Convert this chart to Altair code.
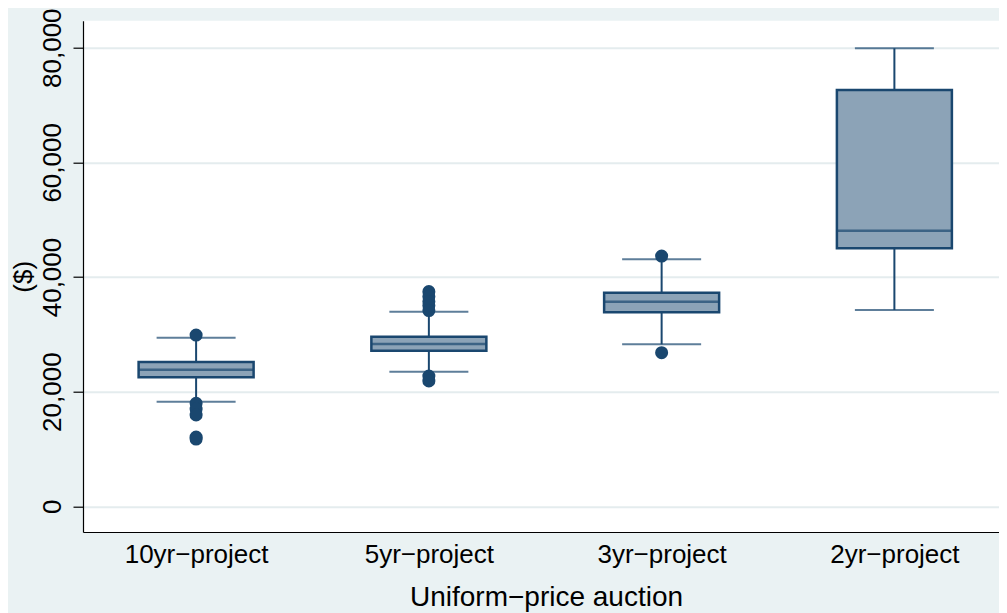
import altair as alt
import pandas as pd

# ---- data ----
categories = ["10yr\u2212project", "5yr\u2212project", "3yr\u2212project", "2yr\u2212project"]
lower_whisker = [18250, 23480, 28260, 34240]
q1 = [22500, 27140, 33840, 45010]
median = [23830, 28310, 35690, 48080]
q3 = [25170, 29590, 37260, 72620]
upper_whisker = [29410, 33950, 43090, 79900]

outlier_group = [
    "10yr\u2212project", "10yr\u2212project", "10yr\u2212project", "10yr\u2212project",
    "10yr\u2212project", "10yr\u2212project",
    "5yr\u2212project", "5yr\u2212project", "5yr\u2212project", "5yr\u2212project",
    "5yr\u2212project", "5yr\u2212project", "5yr\u2212project",
    "3yr\u2212project", "3yr\u2212project",
]
outlier_value = [
    29880, 17970, 16970, 15930, 12090, 11740,
    37450, 36580, 35710, 35010, 34140, 22730, 21860,
    43660, 26800,
]

y_ticks = [0, 20000, 40000, 60000, 80000]

box_df = pd.DataFrame({
    "idx": list(range(len(categories))), "cat": categories,
    "lw": lower_whisker, "q1": q1, "med": median, "q3": q3, "uw": upper_whisker,
})
out_df = pd.DataFrame({
    "idx": [categories.index(g) for g in outlier_group], "val": outlier_value,
})

NAVY = "#1a476f"
FILL = "#8ca3b7"
FONT = "Liberation Sans"
PLOT_W = 916
PLOT_H = 511.3
STEP = 235.33
FIRST = 109.3

label_expr = "[" + ",".join(f"'{c}'" for c in categories) + "][datum.value]"

x_enc = alt.X(
    "idx:Q",
    scale=alt.Scale(domain=[-FIRST / STEP, (PLOT_W - FIRST) / STEP], nice=False, zero=False),
    axis=alt.Axis(
        values=list(range(len(categories))), labelExpr=label_expr,
        title="Uniform\u2212price auction", labelAngle=0, ticks=False, tickSize=0,
        labelPadding=9, labelFont=FONT, labelFontSize=26, labelColor="black",
        labelFlush=False, labelOverlap=False,
        domainColor="black", domainWidth=1.2, grid=False,
        titleFont=FONT, titleFontSize=28, titleFontWeight="normal", titleColor="black",
        titleX=463, titleY=73, titleAlign="center", titleBaseline="alphabetic",
    ),
)

y_scale = alt.Scale(domain=[-4480, 84710], nice=False, zero=False)
y_axis = alt.Axis(
    values=y_ticks, format=",d", labelAngle=270, labelAlign="center",
    labelBaseline="alphabetic", labelPadding=13, labelFont=FONT, labelFontSize=26,
    labelColor="black", labelFlush=False, labelOverlap=False,
    tickSize=10, tickColor="black", tickWidth=1.2,
    domainColor="black", domainWidth=1.2,
    grid=True, gridColor="#e4ecee", gridWidth=2,
    title="($)", titleFont=FONT, titleFontSize=26, titleFontWeight="normal",
    titleColor="black", titleAngle=270, titleX=-52, titleY=PLOT_H / 2,
    titleAlign="center", titleBaseline="alphabetic",
)


def Y(field):
    return alt.Y(f"{field}:Q", scale=y_scale, axis=y_axis)


base = alt.Chart(box_df)

whisker = base.mark_rule(color=NAVY, strokeWidth=2).encode(
    x=x_enc, y=Y("lw"), y2="uw:Q"
)
cap_low = base.mark_tick(orient="horizontal", size=79, thickness=2, color=NAVY).encode(
    x=x_enc, y=Y("lw")
)
cap_high = base.mark_tick(orient="horizontal", size=79, thickness=2, color=NAVY).encode(
    x=x_enc, y=Y("uw")
)
box = base.mark_bar(size=115, fill=FILL, stroke=NAVY, strokeWidth=2.5).encode(
    x=x_enc, y=Y("q1"), y2="q3:Q"
)
med = base.mark_tick(orient="horizontal", size=115, thickness=2.5, color=NAVY).encode(
    x=x_enc, y=Y("med")
)
outliers = alt.Chart(out_df).mark_circle(size=170, color=NAVY, opacity=1).encode(
    x=x_enc, y=Y("val")
)

chart = alt.layer(whisker, cap_low, cap_high, box, med, outliers).properties(
    width=PLOT_W, height=PLOT_H,
    padding={"left": 75, "top": 12.7, "right": 0, "bottom": 81},
    autosize=alt.AutoSizeParams(type="none"),
    background="#eaf2f3",
).configure_view(stroke=None, fill="white")

chart.save("out.html", embed_options={"renderer": "svg", "actions": False})
